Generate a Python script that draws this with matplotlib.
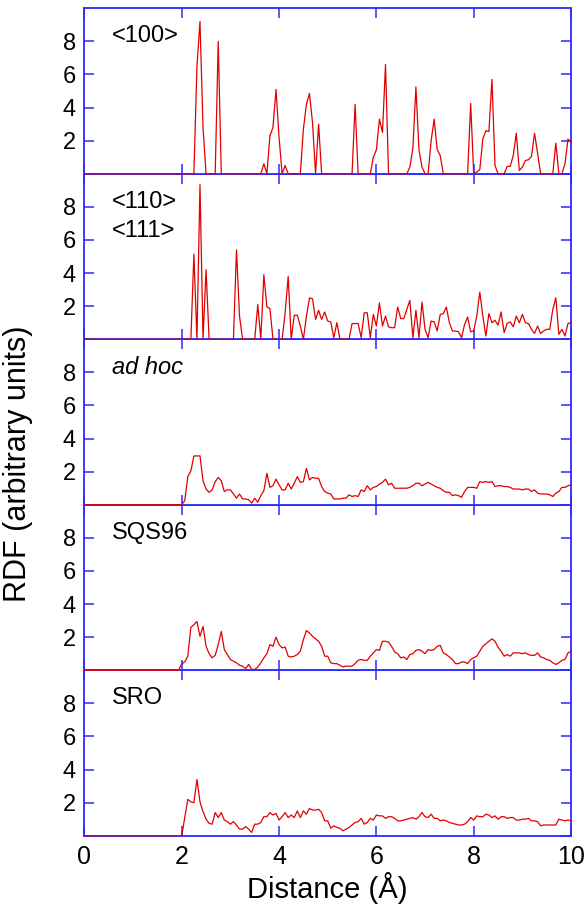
import numpy as np
import matplotlib.pyplot as plt

# RDF curves, sampled every 1/16 A; values below 2 A are zero
r = np.arange(161) / 16.0
n_zero = 32  # points from 0 to 1.9375 A

rdf_100 = [0, 0, 0, 0, 0, 6.5, 9.2, 2.8, 0, 0, 0, 0, 8.0, 0,
           0, 0, 0, 0, 0, 0, 0, 0, 0, 0, 0, 0, 0,
           0.6, 0, 2.3, 2.8, 5.1, 2.2, 0, 0.5, 0, 0, 0, 0, 0,
           2.7, 4.2, 4.85, 3.1, 0, 3.0, 0, 0, 0, 0, 0, 0, 0, 0, 0, 0, 0,
           4.2, 0, 0, 0, 0, 0, 1.0, 1.45, 3.3, 2.5, 6.6, 0,
           0, 0, 0, 0, 0, 0, 0.4, 1.55, 5.25, 1.45, 0.4, 0, 0, 2.0, 3.3, 1.45, 1.1, 0,
           0, 0, 0, 0, 0, 0, 0, 0, 4.25, 0, 0.1, 0.25, 2.1, 2.6, 2.55, 5.7, 0.5,
           0, 0, 0, 0.45, 0.45, 1.1, 2.45, 0.2, 0.4, 0.8, 0.85, 1.05, 2.45, 1.25,
           0, 0, 0, 0, 0, 1.85, 0, 0, 0.6, 2.1, 1.9]

rdf_110 = [0, 0, 0, 0, 5.15, 0, 9.35, 0, 4.2,
           0, 0, 0, 0, 0, 0, 0, 0, 0, 5.4, 1.4, 0, 0, 0, 0, 0,
           2.1, 0, 3.9, 1.95, 1.85, 0, 0, 0, 0, 1.6, 3.8, 0, 1.45, 1.45, 0.8, 0,
           1.4, 2.5, 2.45, 1.2, 1.75, 1.2, 1.65, 1.1, 1.05, 0.1, 1.0, 0.05, 0, 0, 0,
           0.95, 0.95, 0.95, 0.1, 1.6, 1.6, 0.1, 1.5, 0.8, 2.2, 0.8, 1.4, 0.75, 0.7, 0.7,
           1.95, 1.25, 1.25, 1.8, 2.35, 0.1, 1.75, 0.1, 2.25, 0.6, 0.1, 1.1, 1.05, 0.5,
           1.5, 1.55, 1.95, 1.0, 0.5, 0.5, 0.45, 0.1, 0.9, 1.35, 0.45, 0.5, 1.4, 2.85,
           1.4, 0.2, 1.55, 1.0, 1.15, 0.85, 1.65, 0.4, 0.95, 1.05, 0.75, 1.4, 1.0, 1.5,
           1.0, 0.95, 0.6, 0.35, 0.8, 0.35, 0.5, 0.6, 0.6, 1.8, 2.5, 0.3, 0.6, 0.2, 0.95, 1.0]

rdf_adhoc = [0, 0.25, 1.7, 2.05, 2.95, 2.95, 2.95, 1.45, 0.95, 0.75, 0.9, 1.4, 1.65,
             1.45, 0.8, 0.9, 0.9, 0.65, 0.4, 0.65, 0.35, 0.35, 0.3, 0.1, 0.4, 0.15,
             0.55, 0.85, 1.9, 1.05, 1.15, 1.55, 1.2, 0.9, 0.9, 1.3, 0.95, 1.3, 1.7,
             1.35, 1.4, 2.2, 1.5, 1.65, 1.6, 1.6, 1.1, 0.8, 0.7, 0.65, 0.35, 0.35,
             0.35, 0.4, 0.4, 0.6, 0.5, 0.55, 0.5, 0.9, 0.8, 1.15, 0.9, 1.05, 1.1,
             1.25, 1.35, 1.55, 1.2, 1.3, 1.0, 1.0, 1.0, 1.0, 1.0, 1.05, 1.15, 1.3,
             1.3, 1.15, 1.25, 1.35, 1.25, 1.15, 1.05, 1.0, 0.85, 0.75, 0.75, 0.55,
             0.6, 0.55, 0.45, 0.8, 1.05, 1.05, 1.05, 1.0, 1.4, 1.35, 1.4, 1.35, 1.4,
             1.1, 1.15, 1.15, 1.1, 1.1, 1.05, 0.95, 0.95, 0.95, 0.9, 0.95, 0.95, 0.8,
             0.9, 0.7, 0.65, 0.65, 0.65, 0.6, 0.5, 0.7, 0.8, 1.05, 1.05, 1.15, 1.2]

rdf_sqs96 = [0.4, 0.5, 0.85, 2.6, 2.75, 2.95, 2.05, 2.65, 1.45, 1.0, 0.75, 0.9,
             1.55, 2.35, 1.25, 0.95, 0.65, 0.55, 0.45, 0.3, 0.25, 0.1, 0.35, 0.05,
             0.05, 0.2, 0.45, 0.75, 1.0, 1.55, 1.45, 2.0, 1.55, 1.35, 1.4, 0.85, 0.8,
             0.85, 0.95, 1.15, 1.85, 2.4, 2.25, 2.05, 1.9, 1.75, 1.45, 0.85, 0.85,
             0.45, 0.4, 0.4, 0.3, 0.2, 0.25, 0.25, 0.25, 0.4, 0.6, 0.65, 0.6, 0.6,
             0.85, 1.05, 1.25, 1.2, 1.75, 1.75, 1.7, 1.45, 1.1, 1.0, 0.75, 0.8, 0.65,
             0.95, 1.0, 1.2, 1.25, 1.15, 1.0, 1.25, 1.2, 1.25, 1.45, 1.5, 1.05, 0.95,
             0.8, 0.65, 0.4, 0.4, 0.5, 0.5, 0.4, 0.65, 0.75, 0.85, 1.15, 1.45, 1.6,
             1.75, 1.9, 1.75, 1.4, 1.15, 0.85, 0.95, 0.85, 1.05, 1.05, 1.05, 1.0,
             1.05, 0.95, 0.9, 0.9, 1.05, 0.8, 0.75, 0.65, 0.6, 0.45, 0.35, 0.45, 0.6,
             0.65, 1.05, 1.15]

rdf_sro = [0, 1.1, 2.2, 2.05, 2.0, 3.4, 2.05, 1.45, 1.0, 0.75, 0.7, 1.4, 1.1, 1.4,
           0.95, 0.85, 0.7, 0.85, 0.65, 0.4, 0.4, 0.55, 0.4, 0.2, 0.7, 0.7, 0.8,
           1.15, 1.15, 1.4, 1.25, 1.35, 0.95, 1.15, 1.4, 1.1, 1.25, 1.1, 1.5, 1.1,
           1.5, 1.3, 1.65, 1.55, 1.55, 1.6, 1.4, 0.9, 0.9, 0.45, 0.6, 0.5, 0.45,
           0.3, 0.4, 0.5, 0.65, 0.8, 0.85, 1.05, 0.7, 0.8, 1.05, 0.95, 1.25, 1.2,
           1.2, 1.05, 1.15, 1.15, 1.05, 0.9, 0.9, 0.95, 1.0, 1.05, 1.1, 1.0, 1.15,
           1.4, 1.15, 1.1, 1.3, 1.05, 1.05, 0.9, 0.95, 0.9, 0.8, 0.75, 0.7, 0.65,
           0.65, 0.7, 0.85, 1.1, 0.95, 1.2, 1.15, 1.15, 1.3, 1.25, 1.1, 1.2, 1.0,
           1.15, 1.15, 1.05, 1.1, 1.1, 0.95, 0.95, 1.0, 1.0, 1.05, 0.9, 0.9, 0.85,
           0.6, 0.65, 0.65, 0.65, 0.65, 0.65, 1.0, 0.95, 0.9, 0.95, 0.9]

curves = [rdf_100, rdf_110, rdf_adhoc, rdf_sqs96, rdf_sro]
labels = [["<100>"], ["<110>", "<111>"], ["ad hoc"], ["SQS96"], ["SRO"]]

plt.rcParams['font.family'] = ['Liberation Sans', 'DejaVu Sans']
blue = '#2a2aff'

fig, axes = plt.subplots(5, 1, figsize=(5.87, 9.10), dpi=100, sharex=True)
fig.subplots_adjust(left=0.1438, right=0.9728, top=0.9909, bottom=0.0816, hspace=0)

for idx, (ax, vals, lab) in enumerate(zip(axes, curves, labels)):
    ax.set_zorder(10 - idx)  # so each red baseline sits on top of the shared spine
    g = np.concatenate([np.zeros(n_zero), vals])
    ax.plot(r, g, color='#e00000', lw=0.9, zorder=3, clip_on=False)
    ax.set_xlim(0, 10)
    ax.set_ylim(0, 10)
    ax.set_yticks([0, 2, 4, 6, 8])
    ax.set_yticklabels(['', '2', '4', '6', '8'])
    ax.set_xticks([0, 2, 4, 6, 8, 10])
    for s in ax.spines.values():
        s.set_color(blue)
        s.set_linewidth(1.3)
    ax.tick_params(direction='in', top=True, right=True, color=blue,
                   length=7, width=1.1, labelsize=17, pad=6)
    ax.tick_params(axis='x', labelsize=18, pad=7)
    for k, t in enumerate(lab):
        style = 'italic' if t == "ad hoc" else 'normal'
        ax.text(0.56, 8.3 - 1.75 * k, t, fontsize=17, style=style, va='center', ha='left')

axes[-1].set_xlabel("Distance (Å)", fontsize=21, labelpad=2)
fig.text(0.03, 0.49, "RDF (arbitrary units)", rotation=90, fontsize=22,
         va='center', ha='center')

plt.savefig("out.png", dpi=100)
